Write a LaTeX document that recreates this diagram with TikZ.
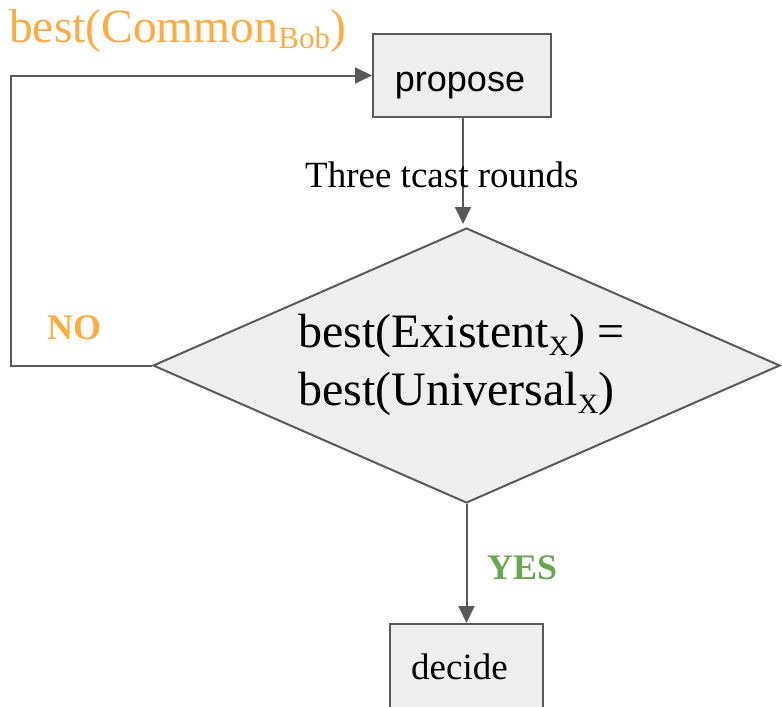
\documentclass[tikz,border=0pt]{standalone}
\usepackage{fontspec}
\setmainfont{Liberation Serif}
\newfontfamily\arialfont{Liberation Sans}
\usetikzlibrary{shapes.geometric,arrows.meta}

\definecolor{linegray}{HTML}{595959}
\definecolor{boxfill}{HTML}{EEEEEE}
\definecolor{noorange}{HTML}{FFAB40}
\definecolor{yesgreen}{HTML}{6AA84F}

% lowered, smaller text for the subscripts
\newcommand\lowtext[3]{\raisebox{-#2}{\fontsize{#1}{#1}\selectfont #3}}

\tikzset{
  flowbox/.style={draw=linegray, line width=2pt, fill=boxfill, inner sep=0pt},
  flowline/.style={draw=linegray, line width=2pt, -{Triangle[length=17pt,width=16pt]}},
  txt/.style={inner sep=0pt, anchor=base west},
}

\begin{document}
\begin{tikzpicture}[x=1pt, y=-1pt]
  \useasboundingbox (0,0) rectangle (782,707);

  % boxes and decision
  \node[flowbox, minimum width=178pt, minimum height=83pt] (propose) at (462,75.5) {};
  \node[txt, anchor=base] (proposelabel) at (460,91)
    {\arialfont\fontsize{36}{36}\selectfont propose};

  \node[flowbox, shape=diamond, minimum width=627pt, minimum height=275pt] (cond) at (466.5,365.5) {};
  \node[txt] (condone) at (298,347)
    {\fontsize{48}{48}\selectfont best(Existent\lowtext{28}{8pt}{X}) =};
  \node[txt] (condtwo) at (298,405)
    {\fontsize{48}{48}\selectfont best(Universal\lowtext{28}{8pt}{X})};

  \node[flowbox, minimum width=153pt, minimum height=110pt] (decide) at (466.5,679) {};
  \node[txt] (decidelabel) at (411,679)
    {\fontsize{37}{37}\selectfont decide};

  % connectors
  \coordinate (roundsend) at (463,224);
  \draw[flowline] (propose.south -| roundsend) -- (roundsend);
  \draw[flowline] (cond.south) -- (cond.south |- decide.north);

  \coordinate (loopbottom) at (11,365.5);
  \coordinate (looptop) at (11,75.5);
  \draw[flowline] (cond.west) -- (loopbottom) -- (looptop) -- (propose.west);

  % labels
  \node[txt] (rounds) at (305,187)
    {\fontsize{37}{37}\selectfont Three tcast rounds};
  \node[txt, text=noorange] (common) at (9,42)
    {\fontsize{47.5}{47.5}\selectfont best(Common\lowtext{31}{6pt}{Bob})};
  \node[txt, text=noorange] (nolabel) at (47,339)
    {\fontsize{36}{36}\selectfont\bfseries NO};
  \node[txt, text=yesgreen] (yeslabel) at (487,579)
    {\fontsize{36}{36}\selectfont\bfseries YES};
\end{tikzpicture}
\end{document}
